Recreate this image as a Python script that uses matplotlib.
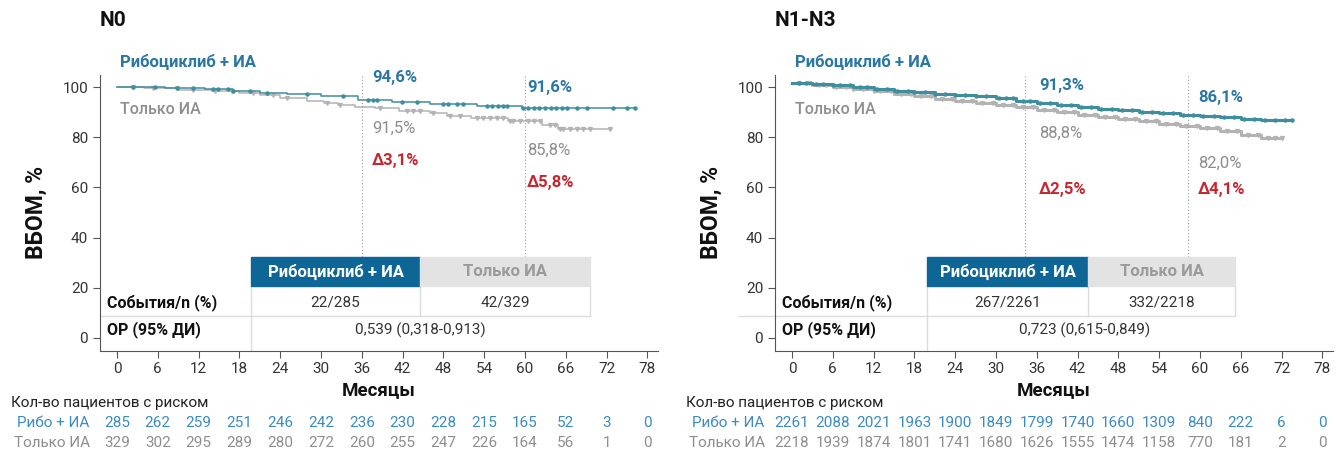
import numpy as np
import matplotlib
matplotlib.use("Agg")
from matplotlib import pyplot as plt
from matplotlib.patches import Rectangle

plt.rcParams['font.family'] = ['Roboto', 'DejaVu Sans']

# ---- data -----------------------------------------------------------
months = [0, 6, 12, 18, 24, 30, 36, 42, 48, 54, 60, 66, 72, 78]

# N0 KM curves (step points)
n0_rib_t = [0, 7, 13, 17, 21, 25, 30, 35.5, 40.5, 46, 53, 59.5, 76.2]
n0_rib_s = [100, 99.6, 99.1, 98.5, 97.8, 97.1, 96.3, 95.0, 93.9, 93.2, 92.4, 91.7, 91.7]
n0_ai_t = [0, 4, 9, 14, 18, 21, 24, 28, 30.5, 32.5, 35, 38, 41.5, 46, 48.5, 52, 57.5, 62.5, 64.8, 72.5]
n0_ai_s = [100, 99.5, 99.0, 98.4, 97.6, 96.7, 95.6, 94.6, 93.7, 92.7, 92.0, 91.5, 90.5, 89.6, 88.5, 87.5, 86.3, 84.9, 83.2, 83.2]
n0_rib_cens = [2.4, 5.6, 8.8, 11.2, 14.1, 14.9, 16.3, 17, 19.6, 22, 28, 33.2, 36.9, 37.6, 38.2, 41.9,
               44.1, 47.9, 48.7, 50, 50.9, 54.4, 55.2, 56.0, 56.8, 57.4, 59.7, 60.5, 61.3, 62.1, 62.9,
               63.8, 64.6, 65.4, 66.2, 67.6, 69.1, 72.9, 75, 76.2]
n0_ai_cens = [2.4, 5.3, 8.8, 11.2, 14.4, 16.9, 20, 22.9, 25, 30.9, 32.8, 38.7, 42.6, 43.5, 44.6, 46.5,
              49, 50.4, 52.9, 53.8, 54.8, 55.9, 56.8, 57.8, 58.2, 59.3, 60.4, 61.3, 62.2, 63.7, 64.4,
              65.1, 65.6, 66.6, 67.6, 68.6, 69.6, 72.5]

# N1-N3 KM curves
n13_rib_t = [0, 3, 6, 9, 12, 15, 18, 21, 24, 27, 30, 33, 36, 39, 42, 45, 48, 51, 54, 57, 60, 63, 66, 69, 73.5]
n13_rib_s = [101.7, 101.3, 100.8, 100.2, 99.4, 98.6, 97.9, 97.3, 96.9, 96.4, 95.6, 94.4, 93.6, 93.0, 92.0,
             91.3, 90.8, 90.1, 89.5, 88.9, 88.3, 87.9, 87.3, 86.9, 86.9]
n13_ai_t = [0, 3, 6, 9, 12, 15, 18, 21, 24, 27, 30, 33, 36, 39, 42, 45, 48, 51, 54, 57, 60, 63, 66, 69, 72]
n13_ai_s = [101.5, 100.9, 100.2, 99.3, 98.4, 97.4, 96.3, 95.4, 94.6, 93.7, 92.8, 91.9, 91.0, 90.1, 89.0,
            88.2, 87.3, 86.3, 85.4, 84.4, 83.5, 82.3, 81.0, 79.8, 79.8]
n13_rib_cens = [1, 2, 3.5, 4.5, 6, 7, 8.5, 10, 11, 12.5, 14, 15.5, 17, 18, 19.5, 21, 22.5, 24, 25.5, 27,
                28.5, 30.5, 31.5, 32.5, 34, 35, 36.5, 38, 39.5, 41, 42.5, 44, 45.5, 47, 48.5, 50, 51.5,
                53, 54.5, 56, 57.5, 59, 60.5, 62, 63.5, 65, 66.5, 68, 69.5, 71, 72.5, 73.5]
n13_ai_cens = [1, 2.5, 4, 5, 6.5, 8, 9, 10.5, 12, 13, 14.5, 16, 17.5, 19, 20.5, 22, 23.5, 25, 26.5, 28,
               29.5, 31, 32.5, 34, 35.5, 37, 38.5, 40, 41.5, 43, 44.5, 46, 47.5, 49, 50.5, 52, 53.5,
               55, 56.5, 58, 59.5, 61, 62.5, 64, 65.5, 67, 68.5, 70, 71, 72]

risk_n0_rib = [285, 262, 259, 251, 246, 242, 236, 230, 228, 215, 165, 52, 3, 0]
risk_n0_ai = [329, 302, 295, 289, 280, 272, 260, 255, 247, 226, 164, 56, 1, 0]
risk_n13_rib = [2261, 2088, 2021, 1963, 1900, 1849, 1799, 1740, 1660, 1309, 840, 222, 6, 0]
risk_n13_ai = [2218, 1939, 1874, 1801, 1741, 1680, 1626, 1555, 1474, 1158, 770, 181, 2, 0]

# ---- colours --------------------------------------------------------
c_curve_blue = '#3f8e9e'
c_curve_gray = '#b3b3b3'
c_blue = '#2a77a3'
c_risk_blue = '#3a8bc2'
c_gray = '#8e8e8e'
c_red = '#c8262e'
c_head_blue = '#0d6696'
c_head_gray = '#e3e3e3'
c_line = '#dcdcdc'


def surv_at(t, s, times):
    idx = np.searchsorted(np.array(t), np.array(times), side='right') - 1
    return np.array(s)[idx]


def panel(ax, rib_t, rib_s, ai_t, ai_s, rib_c, ai_c, lw, vlines, pct, tbl, ev, hr, risk_rib, risk_ai,
          row_line_x0):
    ax.step(ai_t, ai_s, where='post', color=c_curve_gray, lw=lw)
    ax.plot(ai_c, surv_at(ai_t, ai_s, ai_c), ls='none', marker='v', ms=2.8, color=c_curve_gray)
    ax.step(rib_t, rib_s, where='post', color=c_curve_blue, lw=lw)
    ax.plot(rib_c, surv_at(rib_t, rib_s, rib_c), ls='none', marker='o', ms=2.2, color=c_curve_blue)

    ax.set_xlim(-2.5, 79.5)
    ax.set_ylim(-5, 105)
    ax.set_xticks(months)
    ax.set_yticks([0, 20, 40, 60, 80, 100])
    for sp in ['top', 'right']:
        ax.spines[sp].set_visible(False)
    for sp in ['left', 'bottom']:
        ax.spines[sp].set_color('#555555')
    ax.tick_params(colors='#555555', labelcolor='#333333', labelsize=11, length=5)
    ax.set_ylabel('ВБОМ, %', fontsize=16.5, fontweight='bold', color='#111111')
    ax.yaxis.set_label_coords(-0.093, 0.5)
    ax.set_xlabel('Месяцы', fontsize=13.5, fontweight='bold', color='#111111')
    ax.xaxis.set_label_coords(0.5, -0.11)

    for v in vlines:
        ax.plot([v, v], [32.3, 105], ls=(0, (1, 2)), lw=0.8, color='#999999', clip_on=False)

    ax.text(0.4, 110, 'Рибоциклиб + ИА', color=c_blue, fontsize=12, fontweight='bold', va='center')
    ax.text(0.4, 91.2, 'Только ИА', color=c_gray, fontsize=11.5, fontweight='medium', va='center')
    for (x, y, txt, col, w) in pct:
        ax.text(x, y, txt, color=col, fontsize=12, fontweight=w, va='center')

    # table
    x0, x1, x2 = tbl
    ax.add_patch(Rectangle((x0, 20.7), x1 - x0, 11.6, color=c_head_blue, clip_on=False, zorder=3))
    ax.add_patch(Rectangle((x1, 20.7), x2 - x1, 11.6, color=c_head_gray, clip_on=False, zorder=3))
    ax.text((x0 + x1) / 2, 26.5, 'Рибоциклиб + ИА', color='white', fontsize=12, fontweight='bold',
            ha='center', va='center', zorder=4)
    ax.text((x1 + x2) / 2, 26.5, 'Только ИА', color='#9a9a9a', fontsize=12, fontweight='bold',
            ha='center', va='center', zorder=4)
    ax.plot([row_line_x0, x2], [8.8, 8.8], color=c_line, lw=1, clip_on=False)
    ax.plot([x0, x0], [20.7, -5], color=c_line, lw=1, clip_on=False)
    ax.plot([x1, x1], [20.7, 8.8], color=c_line, lw=1, clip_on=False)
    ax.plot([x2, x2], [20.7, 8.8], color=c_line, lw=1, clip_on=False)
    ax.text(-1.5, 14.3, 'События/n (%)', fontsize=11.5, fontweight='bold', va='center', color='#111111')
    ax.text(-1.5, 3.2, 'ОР (95% ДИ)', fontsize=11.5, fontweight='bold', va='center', color='#111111')
    ax.text((x0 + x1) / 2, 14.3, ev[0], fontsize=11, ha='center', va='center', color='#333333')
    ax.text((x1 + x2) / 2, 14.3, ev[1], fontsize=11, ha='center', va='center', color='#333333')
    ax.text(hr[0], 3.2, hr[1], fontsize=11, ha='center', va='center', color='#333333')

    # patients at risk
    ax.text(-15.6, -25.9, 'Кол-во пациентов с риском', fontsize=11, va='center', color='#222222',
            clip_on=False)
    ax.text(-4.0, -33.9, 'Рибо + ИА', fontsize=11, va='center', ha='right', color=c_risk_blue)
    ax.text(-4.0, -41.8, 'Только ИА', fontsize=11, va='center', ha='right', color=c_gray)
    for m, a, b in zip(months, risk_rib, risk_ai):
        ax.text(m, -33.9, str(a), fontsize=11, ha='center', va='center', color=c_risk_blue)
        ax.text(m, -41.8, str(b), fontsize=11, ha='center', va='center', color=c_gray)


fig = plt.figure(figsize=(13.36, 4.53), dpi=100)
ax1 = fig.add_axes([100 / 1336, 1 - 350.5 / 453, 557.6 / 1336, 276 / 453])
ax2 = fig.add_axes([775 / 1336, 1 - 350.5 / 453, 557.6 / 1336, 276 / 453])

panel(ax1, n0_rib_t, n0_rib_s, n0_ai_t, n0_ai_s, n0_rib_cens, n0_ai_cens, 1.1, [36, 60],
      [(37.5, 104, '94,6%', c_blue, 'bold'), (60.3, 100, '91,6%', c_blue, 'bold'),
       (37.5, 83.7, '91,5%', c_gray, 'normal'), (60.3, 74.9, '85,8%', c_gray, 'normal'),
       (37.5, 70.9, 'Δ3,1%', c_red, 'bold'), (60.3, 61.8, 'Δ5,8%', c_red, 'bold')],
      (19.7, 44.6, 69.6), ('22/285', '42/329'), (44.6, '0,539 (0,318-0,913)'),
      risk_n0_rib, risk_n0_ai, -2.5)

panel(ax2, n13_rib_t, n13_rib_s, n13_ai_t, n13_ai_s, n13_rib_cens, n13_ai_cens, 2.2, [34.3, 58.2],
      [(36.3, 100.8, '91,3%', c_blue, 'bold'), (59.7, 96, '86,1%', c_blue, 'bold'),
       (36.3, 81.7, '88,8%', c_gray, 'normal'), (59.7, 69.7, '82,0%', c_gray, 'normal'),
       (36.3, 59, 'Δ2,5%', c_red, 'bold'), (59.7, 59, 'Δ4,1%', c_red, 'bold')],
      (19.9, 43.6, 65.2), ('267/2261', '332/2218'), (43.0, '0,723 (0,615-0,849)'),
      risk_n13_rib, risk_n13_ai, -7.8)

fig.text(100 / 1336, 1 - 20 / 453, 'N0', fontsize=15, fontweight='bold', va='center', color='#111111')
fig.text(775 / 1336, 1 - 20 / 453, 'N1-N3', fontsize=15, fontweight='bold', va='center', color='#111111')

fig.savefig('out.png', dpi=100)
